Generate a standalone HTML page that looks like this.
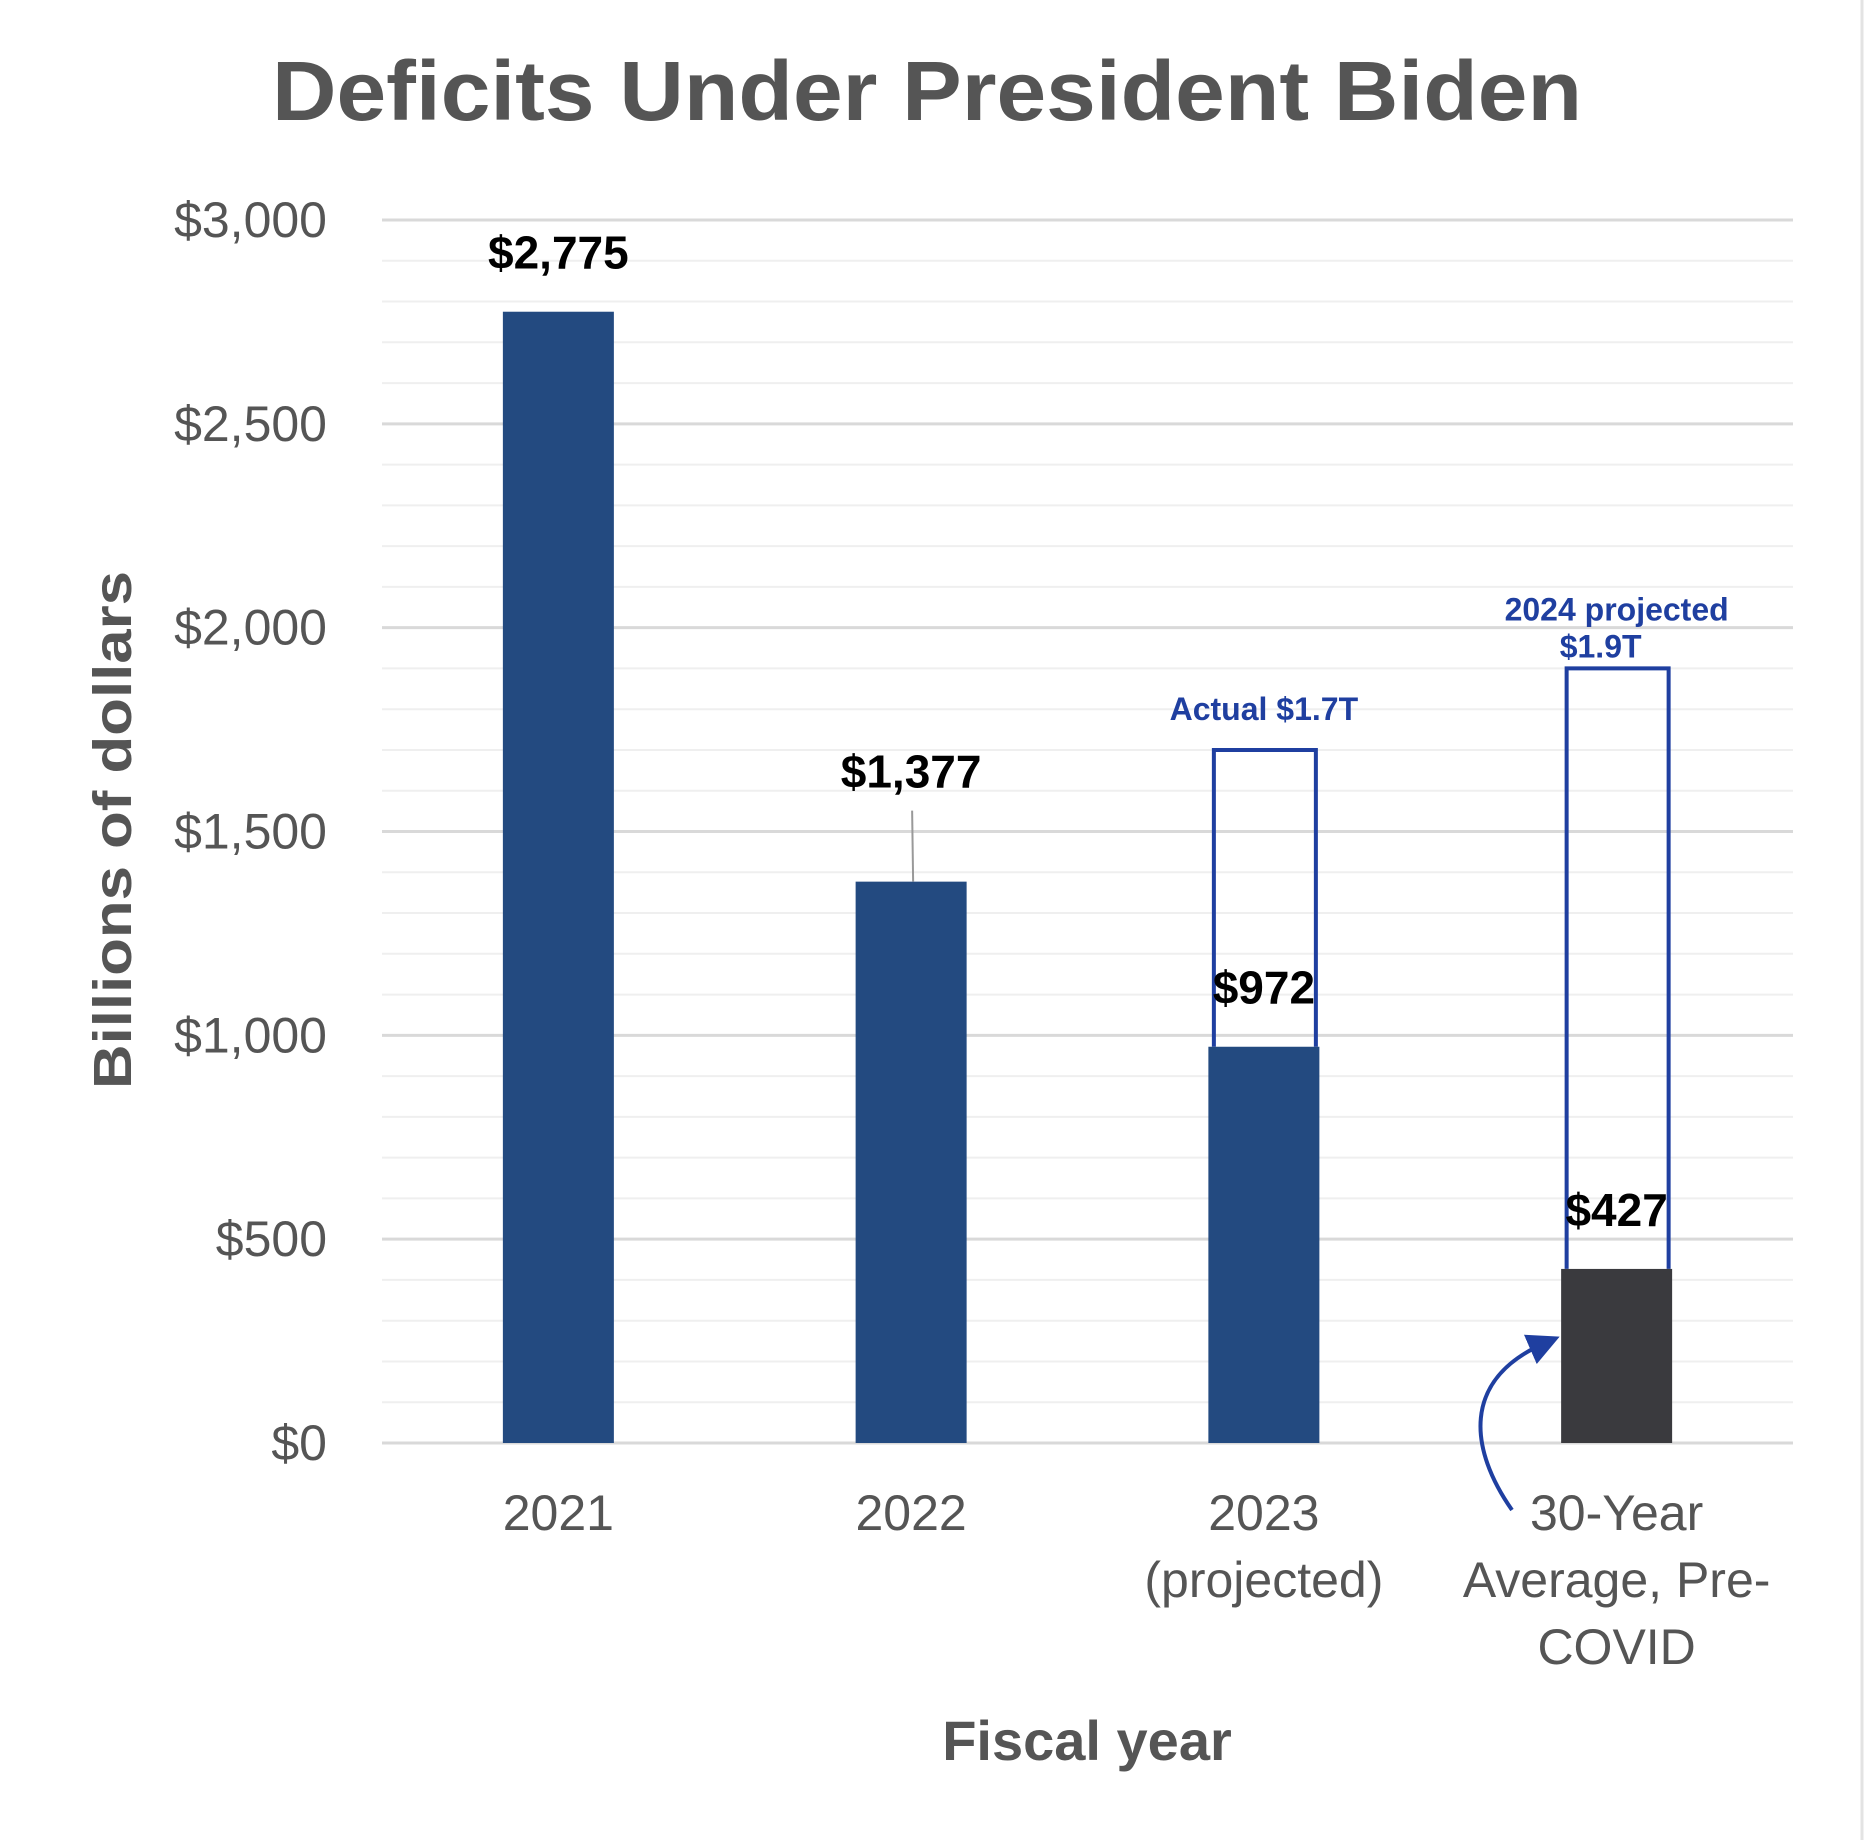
<!DOCTYPE html>
<html><head><meta charset="utf-8"><style>
html,body{margin:0;padding:0;background:#fff;}
svg{display:block;}
text{font-family:"Liberation Sans",sans-serif;}
</style></head><body>
<svg id="chart" width="1866" height="1840" viewBox="0 0 1866 1840">
<line x1="1862" y1="0" x2="1862" y2="1840" stroke="#e3e3e3" stroke-width="3"/>
<text x="927" y="120" text-anchor="middle" font-size="84" font-weight="bold" fill="#555" textLength="1310" lengthAdjust="spacingAndGlyphs">Deficits Under President Biden</text>
<text transform="translate(131,830) rotate(-90)" text-anchor="middle" font-size="54" font-weight="bold" fill="#555" textLength="518" lengthAdjust="spacingAndGlyphs">Billions of dollars</text>
<text x="1087" y="1760" text-anchor="middle" font-size="56" font-weight="bold" fill="#555">Fiscal year</text>
<g id="grid"></g><g id="bars"></g><g id="labels"></g>
<defs><marker id="ah" markerWidth="8" markerHeight="8" refX="4" refY="4" orient="auto" markerUnits="strokeWidth"><path d="M0,0 L8,4 L0,8 z" fill="#1f3fa0"/></marker></defs>
<path d="M1512,1510 C1470,1450 1460,1380 1545,1343" fill="none" stroke="#1f3fa0" stroke-width="4" marker-end="url(#ah)"/>
</svg>
<script>
const categories = [["2021"],["2022"],["2023","(projected)"],["30-Year","Average, Pre-","COVID"]];
const values = [2775, 1377, 972, 427];
const valueLabels = ["$2,775","$1,377","$972","$427"];
const outlineValues = [null, null, 1700, 1900];
const outlineLabels = [null, null, ["Actual $1.7T"], ["2024 projected","$1.9T"]];
const yTicks = [0,500,1000,1500,2000,2500,3000];
const yTickLabels = ["$0","$500","$1,000","$1,500","$2,000","$2,500","$3,000"];
const barColors = ["#234a80","#234a80","#234a80","#3a3a3e"];

const NS="http://www.w3.org/2000/svg";
const X0=382, X1=1793, Y0=1443, YMAX=3000, PH=1443-220;
const y = v => Y0 - v/YMAX*PH;
const band = (X1-X0)/categories.length;
const xc = i => X0 + band*(i+0.5);
const BW=111;
function mk(tag, attrs, parent){const e=document.createElementNS(NS,tag);for(const k in attrs)e.setAttribute(k,attrs[k]);parent.appendChild(e);return e;}
const grid=document.getElementById('grid'), bars=document.getElementById('bars'), labels=document.getElementById('labels');
for(let v=100; v<YMAX; v+=100){
  if(v%500===0) continue;
  const l=mk('line',{x1:X0,x2:X1,y1:y(v),y2:y(v),stroke:'#efefef','stroke-width':2},grid);
  
  
}
yTicks.forEach((t,i)=>{
  const l=mk('line',{x1:X0,x2:X1,y1:y(t),y2:y(t),stroke:'#d9d9d9','stroke-width':3},grid);
  
  
  const tx=mk('text',{x:327,y:y(t)+17,'text-anchor':'end','font-size':50,fill:'#555'},grid);
  tx.textContent=yTickLabels[i];
  
  
});
values.forEach((v,i)=>{
  const cx=xc(i);
  if(outlineValues[i]!==null){
    const top=y(outlineValues[i]), bot=y(v);
    const o=mk('path',{d:`M${cx-50},${bot} L${cx-50},${top} L${cx+52},${top} L${cx+52},${bot}`,fill:'none',stroke:'#1f3fa0','stroke-width':4},bars);
    
    
    const ol=outlineLabels[i];
    ol.forEach((s,j)=>{
      const t=mk('text',{x:cx+(ol.length>1&&j===1?-16:0),y:top-(ol.length-j)*37+(ol.length>1?26:7),'text-anchor':'middle','font-size':32,'font-weight':'bold',fill:'#1f3fa0'},labels);
      t.textContent=s;
      
      
    });
  }
  const r=mk('rect',{x:cx-BW/2,y:y(v),width:BW,height:Y0-y(v),fill:barColors[i]},bars);
  
  
  let ly = outlineValues[i]!==null ? y(v)-58 : (i===1 ? y(v)-109 : y(v)-58);
  if(i===1){
    const ll=mk('line',{x1:cx+1,x2:cx+2,y1:y(v)-71,y2:y(v),stroke:'#999','stroke-width':2},labels);
    
    
  }
  const t=mk('text',{x:cx,y:ly+15,'text-anchor':'middle','font-size':46,'font-weight':'bold',fill:'#000'},labels);
  t.textContent=valueLabels[i];
  
  
  categories[i].forEach((s,j)=>{
    const c=mk('text',{x:cx,y:1530+j*67,'text-anchor':'middle','font-size':50,fill:'#555'},labels);
    c.textContent=s;
    
    
  });
});
</script>
</body></html>
